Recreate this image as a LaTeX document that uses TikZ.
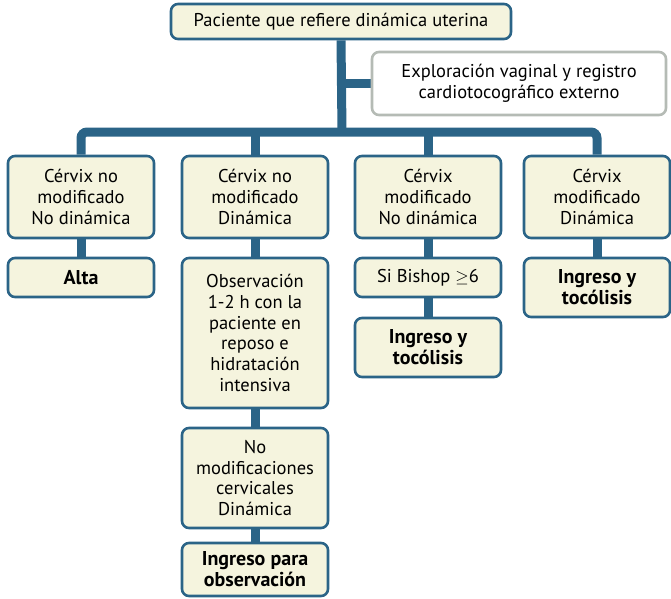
\documentclass[tikz,border=0pt]{standalone}
\usepackage{fontspec}
\setmainfont{PT Sans}
\usetikzlibrary{backgrounds}
\definecolor{azul}{HTML}{2B6487}
\definecolor{crema}{HTML}{F5F4DE}
\definecolor{gris}{HTML}{B5BBB5}

\begin{document}
\begin{tikzpicture}[x=1pt,y=-1pt,
  caja/.style={draw=azul,line width=2.6pt,rounded corners=7pt,fill=crema,
    align=center,inner sep=0pt,minimum width=146pt,
    font=\fontsize{18.5}{20.8}\selectfont},
  negrita/.style={font=\fontsize{20}{21}\selectfont\bfseries},
  enlace/.style={azul,line width=9pt}]
\useasboundingbox (0,0) rectangle (671,598);

%==================== cabecera ====================
\node[caja,minimum width=340pt,minimum height=35pt] (pac) at (341,21.5)
  {Paciente que refiere dinámica uterina};
\node[caja,draw=gris,fill=white,minimum width=294pt,minimum height=63pt] (expl) at (519,83.5)
  {Exploración vaginal y registro\\cardiotocográfico externo};
\coordinate (bus) at (342,132);

%==================== primera fila ====================
\node[caja,minimum height=82pt] (c1) at (81,197) {Cérvix no\\modificado\\No dinámica};
\node[caja,minimum height=82pt] (c2) at (255,197) {Cérvix no\\modificado\\Dinámica};
\node[caja,minimum height=82pt] (c3) at (428,197) {Cérvix\\modificado\\No dinámica};
\node[caja,minimum height=82pt] (c4) at (597,197) {Cérvix\\modificado\\Dinámica};

%==================== columnas ====================
\node[caja,negrita,minimum height=39pt] (alta) at (81,277.5) {Alta};

\node[caja,minimum height=150pt] (obs) at (255,333)
  {Observación\\1-2 h con la\\paciente en\\reposo e\\hidratación\\intensiva};
\node[caja,minimum height=100pt] (nomod) at (255,478)
  {No\\modificaciones\\cervicales\\Dinámica};
\node[caja,negrita,minimum height=53pt] (ingobs) at (255,569.5)
  {Ingreso para\\observación};

\node[caja,minimum height=39pt] (bish) at (428,277.5) {Si Bishop $\geq$6};
\node[caja,negrita,minimum height=59pt] (ing3) at (428,347.5)
  {Ingreso y\\tocólisis};

\node[caja,negrita,minimum height=59pt] (ing4) at (597,287.5)
  {Ingreso y\\tocólisis};

%==================== enlaces ====================
\begin{scope}[on background layer]
  \draw[enlace] (pac.south) -- (bus);
  \draw[enlace] (expl.west) -- (expl.west -| bus);
  \draw[enlace,rounded corners=6pt] (c1.north) |- (bus) -| (c4.north);
  \foreach \n in {c2,c3}
  {
      \draw[enlace] (\n.north) -- (\n.north |- bus);
  }
  \foreach \a/\b in {c1/alta,c2/obs,obs/nomod,nomod/ingobs,c3/bish,bish/ing3,c4/ing4}
  {
      \draw[enlace] (\a) -- (\b);
  }
\end{scope}

\end{tikzpicture}
\end{document}
